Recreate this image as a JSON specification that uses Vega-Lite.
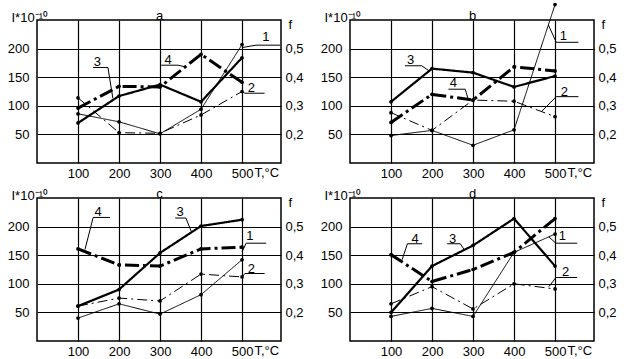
{
 "$schema": "https://vega.github.io/schema/vega-lite/v6.json",
 "background": "white",
 "padding": {"left": 6, "top": 1, "right": 5, "bottom": 3},
 "bounds": "flush",
 "columns": 2,
 "spacing": {"row": 35, "column": 69},
 "datasets": {
  "lines": [
   {"p":"a","s":"1","T":100,"I":86},{"p":"a","s":"1","T":200,"I":72},{"p":"a","s":"1","T":300,"I":51},{"p":"a","s":"1","T":400,"I":94},{"p":"a","s":"1","T":500,"I":207},
   {"p":"a","s":"2","T":100,"I":114},{"p":"a","s":"2","T":200,"I":53},{"p":"a","s":"2","T":300,"I":52},{"p":"a","s":"2","T":400,"I":84},{"p":"a","s":"2","T":500,"I":125},
   {"p":"a","s":"3","T":100,"I":70},{"p":"a","s":"3","T":200,"I":117},{"p":"a","s":"3","T":300,"I":137},{"p":"a","s":"3","T":400,"I":107},{"p":"a","s":"3","T":500,"I":184},
   {"p":"a","s":"4","T":100,"I":96},{"p":"a","s":"4","T":200,"I":134},{"p":"a","s":"4","T":300,"I":133},{"p":"a","s":"4","T":400,"I":190},{"p":"a","s":"4","T":500,"I":141},
   {"p":"b","s":"1","T":100,"I":48},{"p":"b","s":"1","T":200,"I":57},{"p":"b","s":"1","T":300,"I":31},{"p":"b","s":"1","T":400,"I":58},{"p":"b","s":"1","T":500,"I":277},
   {"p":"b","s":"2","T":100,"I":88},{"p":"b","s":"2","T":200,"I":57},{"p":"b","s":"2","T":300,"I":110},{"p":"b","s":"2","T":400,"I":108},{"p":"b","s":"2","T":500,"I":81},
   {"p":"b","s":"3","T":100,"I":107},{"p":"b","s":"3","T":200,"I":165},{"p":"b","s":"3","T":300,"I":158},{"p":"b","s":"3","T":400,"I":133},{"p":"b","s":"3","T":500,"I":152},
   {"p":"b","s":"4","T":100,"I":71},{"p":"b","s":"4","T":200,"I":120},{"p":"b","s":"4","T":300,"I":110},{"p":"b","s":"4","T":400,"I":168},{"p":"b","s":"4","T":500,"I":161},
   {"p":"c","s":"1","T":100,"I":40},{"p":"c","s":"1","T":200,"I":65},{"p":"c","s":"1","T":300,"I":47},{"p":"c","s":"1","T":400,"I":81},{"p":"c","s":"1","T":500,"I":142},
   {"p":"c","s":"2","T":100,"I":61},{"p":"c","s":"2","T":200,"I":75},{"p":"c","s":"2","T":300,"I":70},{"p":"c","s":"2","T":400,"I":117},{"p":"c","s":"2","T":500,"I":112},
   {"p":"c","s":"3","T":100,"I":61},{"p":"c","s":"3","T":200,"I":90},{"p":"c","s":"3","T":300,"I":154},{"p":"c","s":"3","T":400,"I":201},{"p":"c","s":"3","T":500,"I":212},
   {"p":"c","s":"4","T":100,"I":161},{"p":"c","s":"4","T":200,"I":133},{"p":"c","s":"4","T":300,"I":131},{"p":"c","s":"4","T":400,"I":161},{"p":"c","s":"4","T":500,"I":164},
   {"p":"d","s":"1","T":100,"I":43},{"p":"d","s":"1","T":200,"I":57},{"p":"d","s":"1","T":300,"I":43},{"p":"d","s":"1","T":400,"I":155},{"p":"d","s":"1","T":500,"I":187},
   {"p":"d","s":"2","T":100,"I":65},{"p":"d","s":"2","T":200,"I":95},{"p":"d","s":"2","T":300,"I":56},{"p":"d","s":"2","T":400,"I":100},{"p":"d","s":"2","T":500,"I":91},
   {"p":"d","s":"3","T":100,"I":50},{"p":"d","s":"3","T":200,"I":131},{"p":"d","s":"3","T":300,"I":167},{"p":"d","s":"3","T":400,"I":214},{"p":"d","s":"3","T":500,"I":131},
   {"p":"d","s":"4","T":100,"I":151},{"p":"d","s":"4","T":200,"I":104},{"p":"d","s":"4","T":300,"I":125},{"p":"d","s":"4","T":400,"I":155},{"p":"d","s":"4","T":500,"I":214}
  ],
  "leaders": [
   {"p":"a","x":534,"y":206,"x2":593,"y2":206},{"p":"a","x":534,"y":206,"x2":502,"y2":202},
   {"p":"a","x":507,"y":122,"x2":555,"y2":122},{"p":"a","x":507,"y":122,"x2":498,"y2":125},
   {"p":"a","x":137,"y":167,"x2":173,"y2":167},{"p":"a","x":173,"y":167,"x2":185,"y2":113},
   {"p":"a","x":303,"y":171,"x2":344,"y2":171},{"p":"a","x":344,"y":171,"x2":362,"y2":168},
   {"p":"b","x":134,"y":170,"x2":175,"y2":170},{"p":"b","x":175,"y":170,"x2":195,"y2":160},
   {"p":"b","x":240,"y":129,"x2":281,"y2":129},{"p":"b","x":281,"y":129,"x2":288,"y2":112},
   {"p":"b","x":503,"y":211,"x2":557,"y2":211},{"p":"b","x":503,"y":211,"x2":484,"y2":241},
   {"p":"b","x":503,"y":116,"x2":557,"y2":116},{"p":"b","x":503,"y":116,"x2":467,"y2":90},
   {"p":"c","x":137,"y":216,"x2":178,"y2":216},{"p":"c","x":137,"y":216,"x2":117,"y2":160},
   {"p":"c","x":337,"y":215,"x2":363,"y2":215},{"p":"c","x":363,"y":215,"x2":376,"y2":192},
   {"p":"c","x":510,"y":171,"x2":559,"y2":171},{"p":"c","x":510,"y":171,"x2":500,"y2":156},
   {"p":"c","x":507,"y":118,"x2":555,"y2":118},{"p":"c","x":507,"y":118,"x2":500,"y2":112},
   {"p":"d","x":140,"y":170,"x2":176,"y2":170},{"p":"d","x":140,"y":170,"x2":127,"y2":142},
   {"p":"d","x":237,"y":170,"x2":269,"y2":170},{"p":"d","x":269,"y":170,"x2":279,"y2":159},
   {"p":"d","x":502,"y":171,"x2":554,"y2":171},{"p":"d","x":502,"y":171,"x2":485,"y2":182},
   {"p":"d","x":502,"y":111,"x2":554,"y2":111},{"p":"d","x":502,"y":111,"x2":485,"y2":95}
  ],
  "notes": [
   {"p":"a","t":"1","x":558,"y":221},{"p":"a","t":"2","x":523,"y":131},{"p":"a","t":"3","x":147,"y":177},{"p":"a","t":"4","x":320,"y":180},
   {"p":"b","t":"1","x":520,"y":222},{"p":"b","t":"2","x":523,"y":125},{"p":"b","t":"3","x":148,"y":180},{"p":"b","t":"4","x":252,"y":139},
   {"p":"c","t":"1","x":519,"y":184},{"p":"c","t":"2","x":523,"y":126},{"p":"c","t":"3","x":349,"y":225},{"p":"c","t":"4","x":149,"y":225},
   {"p":"d","t":"1","x":518,"y":183},{"p":"d","t":"2","x":526,"y":120},{"p":"d","t":"3","x":250,"y":179},{"p":"d","t":"4","x":159,"y":179}
  ]
 },
 "concat": [
  {
   "width": 244, "height": 143,
   "layer": [
    {"data": {"name": "lines"}, "transform": [{"filter": "datum.p === 'a'"}],
     "mark": {"type": "line", "color": "black", "clip": false},
     "encoding": {
      "x": {"field": "T", "type": "quantitative", "scale": {"domain": [0, 595], "nice": false, "zero": false}, "axis": {"values": [100,200,300,400,500], "title": "T,°C", "titleAlign": "left", "titleBaseline": "alphabetic", "titleX": 217, "titleY": 13}},
      "y": {"field": "I", "type": "quantitative", "scale": {"domain": [0, 250], "nice": false, "zero": false}, "axis": {"values": [50,100,150,200], "title": "I*10⁻¹⁰", "titleAngle": 0, "titleAlign": "left", "titleBaseline": "alphabetic", "titleX": -26, "titleY": 1, "labelPadding": 8}},
      "strokeDash": {"field": "s", "type": "nominal", "scale": {"domain": ["1","2","3","4"], "range": [[1,0],[10,4,2,4],[1,0],[14,4,3,4]]}, "legend": null},
      "strokeWidth": {"field": "s", "type": "nominal", "scale": {"type": "ordinal", "domain": ["1","2","3","4"], "range": [1,1,2.2,3]}, "legend": null}
     }},
    {"data": {"name": "lines"}, "transform": [{"filter": "datum.p === 'a'"}],
     "mark": {"type": "point", "filled": true, "size": 14, "color": "black", "opacity": 1, "clip": false},
     "encoding": {
      "x": {"field": "T", "type": "quantitative", "scale": {"domain": [0, 595], "nice": false, "zero": false}, "axis": {"orient": "top", "labels": false, "grid": false, "title": "a", "titleX": 122, "titleY": -1, "titleAlign": "center", "titleBaseline": "alphabetic"}},
      "y": {"field": "I", "type": "quantitative", "scale": {"domain": [0, 250], "nice": false, "zero": false}, "axis": {"orient": "right", "values": [50,100,150,200], "labelExpr": "replace(format(0.1 + datum.value / 500, '.1f'), '.', ',')", "title": "f", "titleAngle": 0, "titleAlign": "left", "titleBaseline": "alphabetic", "titleX": 7, "titleY": 8, "labelPadding": 4, "grid": false}}
     }},
    {"data": {"name": "leaders"}, "transform": [{"filter": "datum.p === 'a'"}],
     "mark": {"type": "rule", "color": "black", "strokeWidth": 1, "clip": false},
     "encoding": {
      "x": {"field": "x", "type": "quantitative", "scale": {"domain": [0, 595], "nice": false, "zero": false}, "axis": null},
      "y": {"field": "y", "type": "quantitative", "scale": {"domain": [0, 250], "nice": false, "zero": false}, "axis": null},
      "x2": {"field": "x2"}, "y2": {"field": "y2"}
     }},
    {"data": {"name": "notes"}, "transform": [{"filter": "datum.p === 'a'"}],
     "mark": {"type": "text", "color": "black", "fontSize": 13, "clip": false, "align": "center", "baseline": "middle"},
     "encoding": {
      "x": {"field": "x", "type": "quantitative", "scale": {"domain": [0, 595], "nice": false, "zero": false}, "axis": null},
      "y": {"field": "y", "type": "quantitative", "scale": {"domain": [0, 250], "nice": false, "zero": false}, "axis": null},
      "text": {"field": "t"}
     }}
   ],
   "resolve": {"axis": {"x": "independent", "y": "independent"}}
  },
  {
   "width": 244, "height": 143,
   "layer": [
    {"data": {"name": "lines"}, "transform": [{"filter": "datum.p === 'b'"}],
     "mark": {"type": "line", "color": "black", "clip": false},
     "encoding": {
      "x": {"field": "T", "type": "quantitative", "scale": {"domain": [0, 595], "nice": false, "zero": false}, "axis": {"values": [100,200,300,400,500], "title": "T,°C", "titleAlign": "left", "titleBaseline": "alphabetic", "titleX": 217, "titleY": 13}},
      "y": {"field": "I", "type": "quantitative", "scale": {"domain": [0, 250], "nice": false, "zero": false}, "axis": {"values": [50,100,150,200], "title": "I*10⁻¹⁰", "titleAngle": 0, "titleAlign": "left", "titleBaseline": "alphabetic", "titleX": -26, "titleY": 1, "labelPadding": 8}},
      "strokeDash": {"field": "s", "type": "nominal", "scale": {"domain": ["1","2","3","4"], "range": [[1,0],[10,4,2,4],[1,0],[14,4,3,4]]}, "legend": null},
      "strokeWidth": {"field": "s", "type": "nominal", "scale": {"type": "ordinal", "domain": ["1","2","3","4"], "range": [1,1,2.2,3]}, "legend": null}
     }},
    {"data": {"name": "lines"}, "transform": [{"filter": "datum.p === 'b'"}],
     "mark": {"type": "point", "filled": true, "size": 14, "color": "black", "opacity": 1, "clip": false},
     "encoding": {
      "x": {"field": "T", "type": "quantitative", "scale": {"domain": [0, 595], "nice": false, "zero": false}, "axis": {"orient": "top", "labels": false, "grid": false, "title": "b", "titleX": 122, "titleY": -1, "titleAlign": "center", "titleBaseline": "alphabetic"}},
      "y": {"field": "I", "type": "quantitative", "scale": {"domain": [0, 250], "nice": false, "zero": false}, "axis": {"orient": "right", "values": [50,100,150,200], "labelExpr": "replace(format(0.1 + datum.value / 500, '.1f'), '.', ',')", "title": "f", "titleAngle": 0, "titleAlign": "left", "titleBaseline": "alphabetic", "titleX": 7, "titleY": 8, "labelPadding": 4, "grid": false}}
     }},
    {"data": {"name": "leaders"}, "transform": [{"filter": "datum.p === 'b'"}],
     "mark": {"type": "rule", "color": "black", "strokeWidth": 1, "clip": false},
     "encoding": {
      "x": {"field": "x", "type": "quantitative", "scale": {"domain": [0, 595], "nice": false, "zero": false}, "axis": null},
      "y": {"field": "y", "type": "quantitative", "scale": {"domain": [0, 250], "nice": false, "zero": false}, "axis": null},
      "x2": {"field": "x2"}, "y2": {"field": "y2"}
     }},
    {"data": {"name": "notes"}, "transform": [{"filter": "datum.p === 'b'"}],
     "mark": {"type": "text", "color": "black", "fontSize": 13, "clip": false, "align": "center", "baseline": "middle"},
     "encoding": {
      "x": {"field": "x", "type": "quantitative", "scale": {"domain": [0, 595], "nice": false, "zero": false}, "axis": null},
      "y": {"field": "y", "type": "quantitative", "scale": {"domain": [0, 250], "nice": false, "zero": false}, "axis": null},
      "text": {"field": "t"}
     }}
   ],
   "resolve": {"axis": {"x": "independent", "y": "independent"}}
  },
  {
   "width": 244, "height": 143,
   "layer": [
    {"data": {"name": "lines"}, "transform": [{"filter": "datum.p === 'c'"}],
     "mark": {"type": "line", "color": "black", "clip": false},
     "encoding": {
      "x": {"field": "T", "type": "quantitative", "scale": {"domain": [0, 595], "nice": false, "zero": false}, "axis": {"values": [100,200,300,400,500], "title": "T,°C", "titleAlign": "left", "titleBaseline": "alphabetic", "titleX": 217, "titleY": 13}},
      "y": {"field": "I", "type": "quantitative", "scale": {"domain": [0, 250], "nice": false, "zero": false}, "axis": {"values": [50,100,150,200], "title": "I*10⁻¹⁰", "titleAngle": 0, "titleAlign": "left", "titleBaseline": "alphabetic", "titleX": -26, "titleY": 1, "labelPadding": 8}},
      "strokeDash": {"field": "s", "type": "nominal", "scale": {"domain": ["1","2","3","4"], "range": [[1,0],[10,4,2,4],[1,0],[14,4,3,4]]}, "legend": null},
      "strokeWidth": {"field": "s", "type": "nominal", "scale": {"type": "ordinal", "domain": ["1","2","3","4"], "range": [1,1,2.2,3]}, "legend": null}
     }},
    {"data": {"name": "lines"}, "transform": [{"filter": "datum.p === 'c'"}],
     "mark": {"type": "point", "filled": true, "size": 14, "color": "black", "opacity": 1, "clip": false},
     "encoding": {
      "x": {"field": "T", "type": "quantitative", "scale": {"domain": [0, 595], "nice": false, "zero": false}, "axis": {"orient": "top", "labels": false, "grid": false, "title": "c", "titleX": 122, "titleY": -1, "titleAlign": "center", "titleBaseline": "alphabetic"}},
      "y": {"field": "I", "type": "quantitative", "scale": {"domain": [0, 250], "nice": false, "zero": false}, "axis": {"orient": "right", "values": [50,100,150,200], "labelExpr": "replace(format(0.1 + datum.value / 500, '.1f'), '.', ',')", "title": "f", "titleAngle": 0, "titleAlign": "left", "titleBaseline": "alphabetic", "titleX": 7, "titleY": 8, "labelPadding": 4, "grid": false}}
     }},
    {"data": {"name": "leaders"}, "transform": [{"filter": "datum.p === 'c'"}],
     "mark": {"type": "rule", "color": "black", "strokeWidth": 1, "clip": false},
     "encoding": {
      "x": {"field": "x", "type": "quantitative", "scale": {"domain": [0, 595], "nice": false, "zero": false}, "axis": null},
      "y": {"field": "y", "type": "quantitative", "scale": {"domain": [0, 250], "nice": false, "zero": false}, "axis": null},
      "x2": {"field": "x2"}, "y2": {"field": "y2"}
     }},
    {"data": {"name": "notes"}, "transform": [{"filter": "datum.p === 'c'"}],
     "mark": {"type": "text", "color": "black", "fontSize": 13, "clip": false, "align": "center", "baseline": "middle"},
     "encoding": {
      "x": {"field": "x", "type": "quantitative", "scale": {"domain": [0, 595], "nice": false, "zero": false}, "axis": null},
      "y": {"field": "y", "type": "quantitative", "scale": {"domain": [0, 250], "nice": false, "zero": false}, "axis": null},
      "text": {"field": "t"}
     }}
   ],
   "resolve": {"axis": {"x": "independent", "y": "independent"}}
  },
  {
   "width": 244, "height": 143,
   "layer": [
    {"data": {"name": "lines"}, "transform": [{"filter": "datum.p === 'd'"}],
     "mark": {"type": "line", "color": "black", "clip": false},
     "encoding": {
      "x": {"field": "T", "type": "quantitative", "scale": {"domain": [0, 595], "nice": false, "zero": false}, "axis": {"values": [100,200,300,400,500], "title": "T,°C", "titleAlign": "left", "titleBaseline": "alphabetic", "titleX": 217, "titleY": 13}},
      "y": {"field": "I", "type": "quantitative", "scale": {"domain": [0, 250], "nice": false, "zero": false}, "axis": {"values": [50,100,150,200], "title": "I*10⁻¹⁰", "titleAngle": 0, "titleAlign": "left", "titleBaseline": "alphabetic", "titleX": -26, "titleY": 1, "labelPadding": 8}},
      "strokeDash": {"field": "s", "type": "nominal", "scale": {"domain": ["1","2","3","4"], "range": [[1,0],[10,4,2,4],[1,0],[14,4,3,4]]}, "legend": null},
      "strokeWidth": {"field": "s", "type": "nominal", "scale": {"type": "ordinal", "domain": ["1","2","3","4"], "range": [1,1,2.2,3]}, "legend": null}
     }},
    {"data": {"name": "lines"}, "transform": [{"filter": "datum.p === 'd'"}],
     "mark": {"type": "point", "filled": true, "size": 14, "color": "black", "opacity": 1, "clip": false},
     "encoding": {
      "x": {"field": "T", "type": "quantitative", "scale": {"domain": [0, 595], "nice": false, "zero": false}, "axis": {"orient": "top", "labels": false, "grid": false, "title": "d", "titleX": 122, "titleY": -1, "titleAlign": "center", "titleBaseline": "alphabetic"}},
      "y": {"field": "I", "type": "quantitative", "scale": {"domain": [0, 250], "nice": false, "zero": false}, "axis": {"orient": "right", "values": [50,100,150,200], "labelExpr": "replace(format(0.1 + datum.value / 500, '.1f'), '.', ',')", "title": "f", "titleAngle": 0, "titleAlign": "left", "titleBaseline": "alphabetic", "titleX": 7, "titleY": 8, "labelPadding": 4, "grid": false}}
     }},
    {"data": {"name": "leaders"}, "transform": [{"filter": "datum.p === 'd'"}],
     "mark": {"type": "rule", "color": "black", "strokeWidth": 1, "clip": false},
     "encoding": {
      "x": {"field": "x", "type": "quantitative", "scale": {"domain": [0, 595], "nice": false, "zero": false}, "axis": null},
      "y": {"field": "y", "type": "quantitative", "scale": {"domain": [0, 250], "nice": false, "zero": false}, "axis": null},
      "x2": {"field": "x2"}, "y2": {"field": "y2"}
     }},
    {"data": {"name": "notes"}, "transform": [{"filter": "datum.p === 'd'"}],
     "mark": {"type": "text", "color": "black", "fontSize": 13, "clip": false, "align": "center", "baseline": "middle"},
     "encoding": {
      "x": {"field": "x", "type": "quantitative", "scale": {"domain": [0, 595], "nice": false, "zero": false}, "axis": null},
      "y": {"field": "y", "type": "quantitative", "scale": {"domain": [0, 250], "nice": false, "zero": false}, "axis": null},
      "text": {"field": "t"}
     }}
   ],
   "resolve": {"axis": {"x": "independent", "y": "independent"}}
  }
 ],
 "config": {
  "font": "Liberation Sans",
  "view": {"stroke": "black", "strokeWidth": 1.5},
  "axis": {"domain": false, "ticks": false, "grid": true, "gridColor": "black", "gridOpacity": 1, "gridWidth": 1.2, "labelColor": "black", "labelFontSize": 13, "labelFont": "Liberation Sans", "titleFont": "Liberation Sans", "titleFontSize": 13, "titleFontWeight": "normal", "titleColor": "black", "labelPadding": 4}
 }
}
